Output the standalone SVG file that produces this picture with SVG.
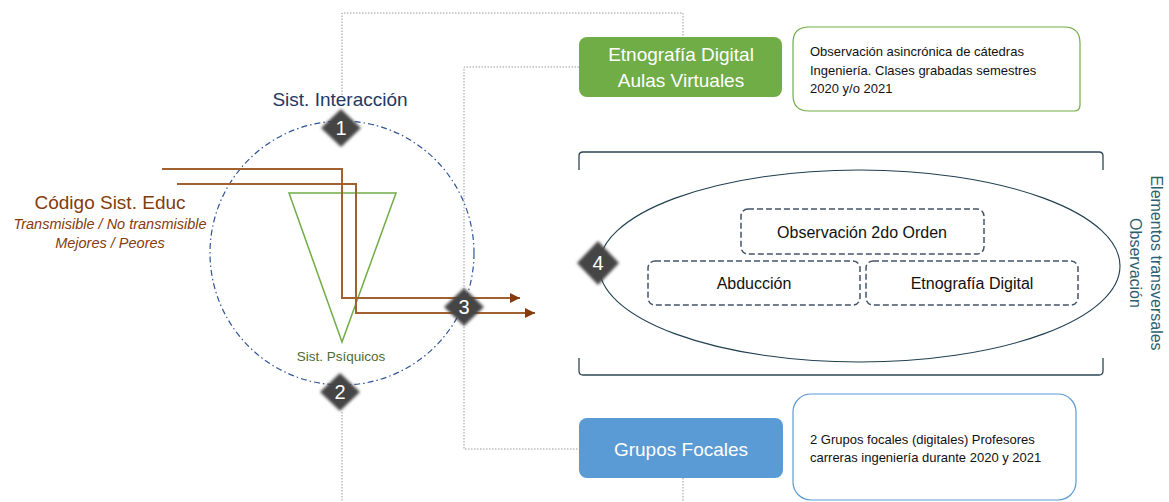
<svg xmlns="http://www.w3.org/2000/svg" width="1169" height="502" viewBox="0 0 1169 502">
<style>
text{font-family:"Liberation Sans",Arial,sans-serif}
.dot{fill:none;stroke:#9a9a9a;stroke-width:1;stroke-dasharray:1.5 1.5}
.brown{fill:none;stroke:#A0602F;stroke-width:2}
.dia{fill:#454545;filter:url(#soft)}
.num{fill:#fff;font-size:20px;text-anchor:middle}
.dash{fill:none;stroke:#44546A;stroke-width:1.5;stroke-dasharray:6 3}
.in{fill:#111;font-size:16px;text-anchor:middle}
.det{fill:#111;font-size:13px}
.wt{fill:#fff;font-size:19px;text-anchor:middle}
</style>
<defs>
<filter id="soft" x="-30%" y="-30%" width="160%" height="160%"><feGaussianBlur stdDeviation="1.6"/></filter>
<marker id="arr" viewBox="0 0 10 10" refX="10" refY="5" markerWidth="5" markerHeight="5" orient="auto" markerUnits="strokeWidth"><path d="M0,0 L10,5 L0,10 z" fill="#843C0C"/></marker>
</defs>

<g id="connectors">
<path class="dot" d="M342,95 V13 H683 V37"/>
<path class="dot" d="M579,67 H464 V449 H579"/>
<path class="dot" d="M342,412 V502"/>
<path class="dot" d="M683,478 V502"/>
</g>

<g id="sist-interaccion">
<circle cx="342" cy="253" r="132" fill="none" stroke="#2F5597" stroke-width="1.2" stroke-dasharray="6 3 1.5 3"/>
<text x="340" y="106" font-size="19" fill="#1F3864" text-anchor="middle">Sist. Interacción</text>
</g>

<g id="sist-psiquicos">
<path d="M289,193 H396 L342,342 Z" fill="none" stroke="#70AD47" stroke-width="1.5"/>
<text x="341" y="361" font-size="13.5" fill="#4E6B30" text-anchor="middle">Sist. Psíquicos</text>
</g>

<g id="codigo">
<text x="110" y="209" font-size="19" fill="#843C0C" text-anchor="middle">Código Sist. Educ</text>
<text x="110" y="229" font-size="14.5" font-style="italic" fill="#843C0C" text-anchor="middle">Transmisible / No transmisible</text>
<text x="110" y="248" font-size="14.5" font-style="italic" fill="#843C0C" text-anchor="middle">Mejores / Peores</text>
</g>

<g id="flows">
<path class="brown" d="M162,169 H342 V298 H520" marker-end="url(#arr)"/>
<path class="brown" d="M177,184 H356 V313 H535" marker-end="url(#arr)"/>
</g>

<g id="d1"><path class="dia" d="M341,109 L361,128 L341,147 L321,128 Z"/><text class="num" x="341" y="135">1</text></g>
<g id="d2"><path class="dia" d="M340,373 L360,392 L340,411 L320,392 Z"/><text class="num" x="340" y="399">2</text></g>
<g id="d3"><path class="dia" d="M464,288 L484,307 L464,326 L444,307 Z"/><text class="num" x="464" y="314">3</text></g>

<g id="etnografia-aulas">
<rect x="579" y="37" width="203" height="60" rx="8" fill="#70AD47"/>
<text class="wt" x="681" y="61">Etnografía Digital</text>
<text class="wt" x="681" y="87">Aulas Virtuales</text>
</g>
<g id="detalle-etnografia">
<path d="M809,27 H1064 Q1080,27 1080,43 V105 Q1080,111 1074,111 H809 Q793,111 793,95 V43 Q793,27 809,27 Z" fill="#fff" stroke="#70AD47" stroke-width="1.2"/>
<text class="det" x="810" y="56">Observación asincrónica de cátedras</text>
<text class="det" x="810" y="75">Ingeniería. Clases grabadas semestres</text>
<text class="det" x="810" y="93">2020 y/o 2021</text>
</g>

<g id="observacion">
<path d="M579,170 V156 Q579,152 583,152 H1099 Q1103,152 1103,156 V170" fill="none" stroke="#2E4653" stroke-width="1.3"/>
<path d="M579,358 V371 Q579,375 583,375 H1099 Q1103,375 1103,371 V358" fill="none" stroke="#2E4653" stroke-width="1.3"/>
<ellipse cx="859.5" cy="266" rx="260.5" ry="96" fill="none" stroke="#1F3F4F" stroke-width="1.1"/>
<text transform="translate(1151,263) rotate(90)" font-size="16" fill="#2F5F6F" text-anchor="middle">Elementos transversales<tspan x="0" dy="21">Observación</tspan></text>
</g>
<g id="obs2orden"><rect class="dash" x="741" y="209" width="243" height="45" rx="7"/><text class="in" x="862" y="238">Observación 2do Orden</text></g>
<g id="abduccion"><rect class="dash" x="648" y="261" width="212" height="44" rx="7"/><text class="in" x="754" y="289">Abducción</text></g>
<g id="etnografia-digital"><rect class="dash" x="866" y="261" width="212" height="44" rx="7"/><text class="in" x="972" y="289">Etnografía Digital</text></g>
<g id="d4"><path class="dia" d="M598,241 L619,263 L598,285 L577,263 Z"/><text class="num" x="598" y="270">4</text></g>

<g id="grupos-focales">
<rect x="579" y="418" width="204" height="60" rx="8" fill="#5B9BD5"/>
<text class="wt" x="681" y="456">Grupos Focales</text>
</g>
<g id="detalle-grupos">
<rect x="793" y="394" width="283" height="106" rx="18" fill="#fff" stroke="#5B9BD5" stroke-width="1.2"/>
<text class="det" x="810" y="444">2 Grupos focales (digitales) Profesores</text>
<text class="det" x="810" y="462">carreras ingeniería durante 2020 y 2021</text>
</g>
</svg>
